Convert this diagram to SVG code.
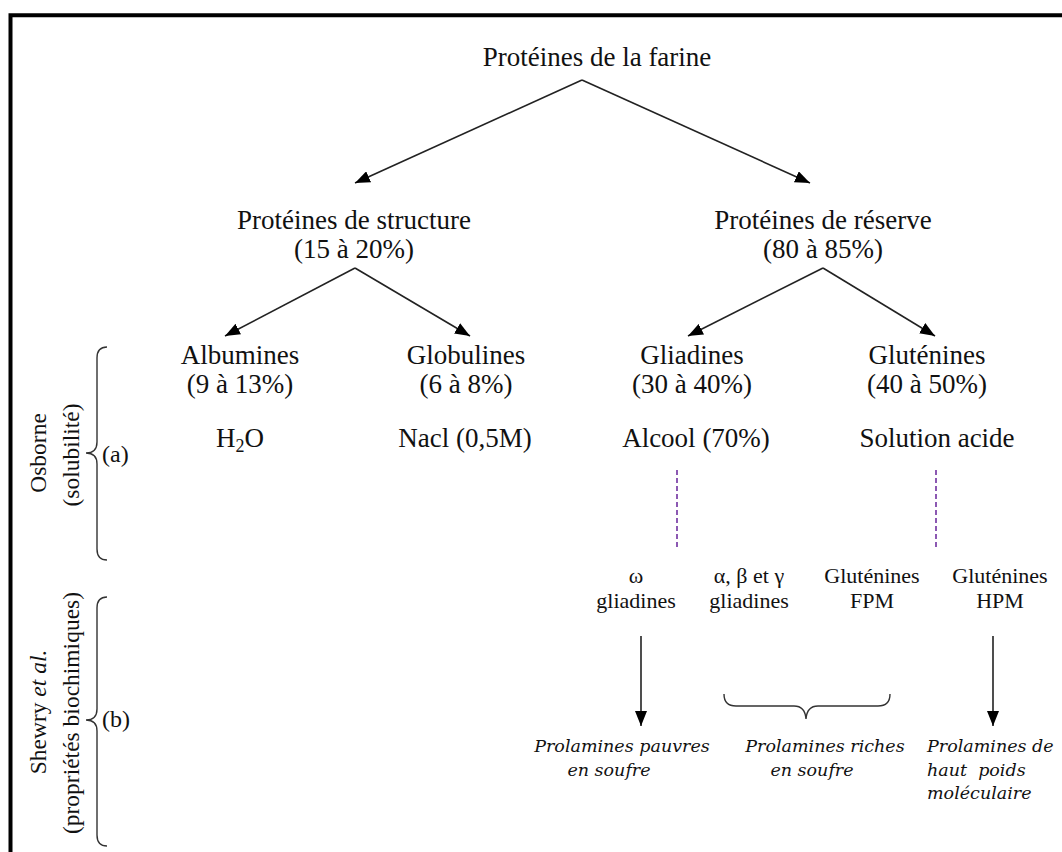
<svg xmlns="http://www.w3.org/2000/svg" width="1062" height="852" viewBox="0 0 1062 852">
  <style>
    .t { font-family: "Liberation Serif", "Times New Roman", serif; font-size: 27px; fill: #111; text-anchor: middle; }
    .s { font-family: "Liberation Serif", "Times New Roman", serif; font-size: 22px; fill: #111; text-anchor: middle; }
    .side { font-family: "Liberation Serif", "Times New Roman", serif; font-size: 23.5px; fill: #111; text-anchor: middle; }
    .lab { font-family: "Liberation Serif", "Times New Roman", serif; font-size: 24px; fill: #111; }
    .it { font-family: "DejaVu Serif", serif; font-style: italic; font-size: 17.5px; fill: #111; }
    .mid { text-anchor: middle; }
    .edge { stroke: #222; stroke-width: 1.6; fill: none; marker-end: url(#arrow); }
    .dash { stroke: #7030a0; stroke-width: 1.6; stroke-dasharray: 5 3; fill: none; }
    .brace { stroke: #333; stroke-width: 1.4; fill: none; }
  </style>
  <defs>
    <marker id="arrow" markerUnits="userSpaceOnUse" markerWidth="16" markerHeight="12" refX="15" refY="6" orient="auto">
      <path d="M0,0 L15,6 L0,12 z" fill="#000"/>
    </marker>
  </defs>

  <rect width="1062" height="852" fill="#fff"/>

  <!-- frame -->
  <g id="frame" stroke="#000" stroke-width="4" fill="none">
    <path d="M10.5,852 V15.3 H1062"/>
  </g>

  <!-- connectors -->
  <g id="connectors">
    <line class="edge" x1="582" y1="80" x2="355" y2="183"/>
    <line class="edge" x1="582" y1="80" x2="810" y2="183"/>
    <line class="edge" x1="355" y1="268" x2="225" y2="336"/>
    <line class="edge" x1="355" y1="268" x2="470" y2="336"/>
    <line class="edge" x1="823" y1="268" x2="688" y2="336"/>
    <line class="edge" x1="823" y1="268" x2="935" y2="336"/>
    <line class="dash" x1="677" y1="470" x2="677" y2="547"/>
    <line class="dash" x1="936" y1="470" x2="936" y2="547"/>
    <line class="edge" x1="641" y1="636" x2="641" y2="726"/>
    <line class="edge" x1="993" y1="636" x2="993" y2="726"/>
    <path class="brace" d="M724,694 Q724,706 736,706 L794,706 Q805,706 806,719 Q807,706 818,706 L878,706 Q890,706 890,694"/>
  </g>

  <g id="root">
    <text class="t" x="597" y="66">Protéines de la farine</text>
  </g>
  <g id="structure">
    <text class="t" x="354" y="229">Protéines de structure</text>
    <text class="t" x="354" y="258">(15 à 20%)</text>
  </g>
  <g id="reserve">
    <text class="t" x="823" y="229">Protéines de réserve</text>
    <text class="t" x="823" y="258">(80 à 85%)</text>
  </g>
  <g id="albumines">
    <text class="t" x="240" y="364">Albumines</text>
    <text class="t" x="240" y="393">(9 à 13%)</text>
    <text class="t" x="240" y="447">H<tspan font-size="18" dy="5">2</tspan><tspan dy="-5">O</tspan></text>
  </g>
  <g id="globulines">
    <text class="t" x="466" y="364">Globulines</text>
    <text class="t" x="466" y="393">(6 à 8%)</text>
    <text class="t" x="465" y="447">Nacl (0,5M)</text>
  </g>
  <g id="gliadines">
    <text class="t" x="692" y="364">Gliadines</text>
    <text class="t" x="692" y="393">(30 à 40%)</text>
    <text class="t" x="696" y="447">Alcool (70%)</text>
  </g>
  <g id="glutenines">
    <text class="t" x="927" y="364">Gluténines</text>
    <text class="t" x="927" y="393">(40 à 50%)</text>
    <text class="t" x="937" y="447">Solution acide</text>
  </g>

  <g id="omega-gliadines">
    <text class="s" x="636" y="583">ω</text>
    <text class="s" x="636" y="608">gliadines</text>
  </g>
  <g id="abg-gliadines">
    <text class="s" x="749" y="583">α, β et γ</text>
    <text class="s" x="749" y="608">gliadines</text>
  </g>
  <g id="glutenines-fpm">
    <text class="s" x="872" y="583">Gluténines</text>
    <text class="s" x="872" y="608">FPM</text>
  </g>
  <g id="glutenines-hpm">
    <text class="s" x="1000" y="583">Gluténines</text>
    <text class="s" x="1000" y="608">HPM</text>
  </g>

  <g id="prolamines-pauvres">
    <text class="it mid" x="622" y="752">Prolamines pauvres</text>
    <text class="it mid" x="609" y="776">en soufre</text>
  </g>
  <g id="prolamines-riches">
    <text class="it mid" x="825" y="752">Prolamines riches</text>
    <text class="it mid" x="812" y="776">en soufre</text>
  </g>
  <g id="prolamines-hpm">
    <text class="it" x="927" y="752">Prolamines de</text>
    <text class="it" x="927" y="776" xml:space="preserve">haut  poids</text>
    <text class="it" x="927" y="799">moléculaire</text>
  </g>

  <!-- Osborne classification bracket -->
  <g id="osborne">
    <text class="side" transform="translate(46,453) rotate(-90)">Osborne</text>
    <text class="side" transform="translate(79,455) rotate(-90)">(solubilité)</text>
    <path class="brace" d="M107,347 Q97,347 97,358 L97,442 Q97,453 86,453 Q97,453 97,464 L97,549 Q97,560 107,560"/>
    <text class="lab" x="102" y="462">(a)</text>
  </g>

  <!-- Shewry classification bracket -->
  <g id="shewry">
    <text class="side" transform="translate(46,712) rotate(-90)">Shewry <tspan font-style="italic">et al.</tspan></text>
    <text class="side" transform="translate(79,713) rotate(-90)">(propriétés biochimiques)</text>
    <path class="brace" d="M107,597 Q97,597 97,608 L97,709 Q97,720 86,720 Q97,720 97,731 L97,835 Q97,846 107,846"/>
    <text class="lab" x="102" y="727">(b)</text>
  </g>
</svg>
